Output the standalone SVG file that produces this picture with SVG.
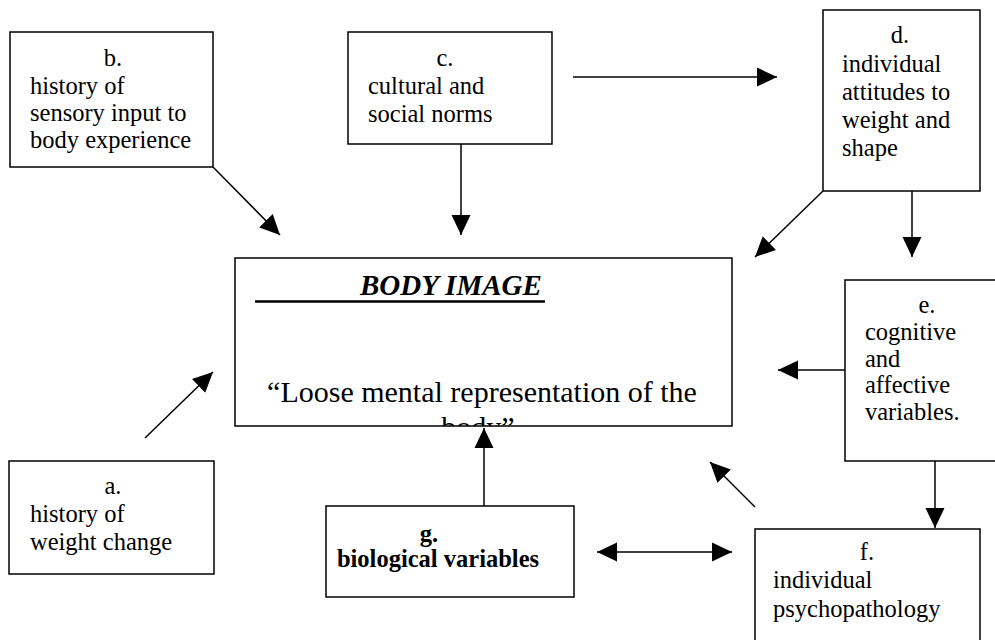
<svg xmlns="http://www.w3.org/2000/svg" width="995" height="640" viewBox="0 0 995 640">
<style>
text{font-family:"Liberation Serif","Times New Roman",serif;fill:#000;font-size:24.5px}
.box{fill:#fff;stroke:#000;stroke-width:1.5}
.c{text-anchor:middle}
.b{font-weight:bold}
.ln{stroke:#000;stroke-width:1.5;fill:none}
</style>
<defs>
<marker id="ah" markerUnits="userSpaceOnUse" markerWidth="21" markerHeight="20" refX="20" refY="9.5" orient="auto-start-reverse" viewBox="0 0 21 19">
<path d="M0,0 L20,9.5 L0,19 z" fill="#000"/>
</marker>
<clipPath id="bodyclip"><rect x="235" y="258" width="497" height="168"/></clipPath>
</defs>
<rect width="995" height="640" fill="#fff"/>
<g id="connectors">
<line class="ln" x1="213" y1="167" x2="280" y2="235" marker-end="url(#ah)"/>
<line class="ln" x1="461" y1="144" x2="461" y2="235" marker-end="url(#ah)"/>
<line class="ln" x1="573" y1="77" x2="777" y2="77" marker-end="url(#ah)"/>
<line class="ln" x1="823" y1="191" x2="755" y2="257" marker-end="url(#ah)"/>
<line class="ln" x1="912" y1="191" x2="912" y2="257" marker-end="url(#ah)"/>
<line class="ln" x1="845" y1="370" x2="778" y2="370" marker-end="url(#ah)"/>
<line class="ln" x1="935" y1="461" x2="935" y2="528" marker-end="url(#ah)"/>
<line class="ln" x1="755" y1="507" x2="710" y2="462" marker-end="url(#ah)"/>
<line class="ln" x1="484" y1="506" x2="484" y2="428" marker-end="url(#ah)"/>
<line class="ln" x1="597" y1="552" x2="732" y2="552" marker-start="url(#ah)" marker-end="url(#ah)"/>
<line class="ln" x1="145" y1="438" x2="213" y2="372" marker-end="url(#ah)"/>
</g>
<g id="body-image">
<rect class="box" x="235" y="258" width="497" height="168"/>
<text x="360" y="295" style="font-size:29px;font-weight:bold;font-style:italic">BODY IMAGE</text>
<line x1="255" y1="301.5" x2="545" y2="301.5" stroke="#000" stroke-width="2.5"/>
<g clip-path="url(#bodyclip)">
<text class="c" x="482" y="402" style="font-size:30px">“Loose mental representation of the</text>
<text class="c" x="478" y="437" style="font-size:30px">body”</text>
</g>
</g>
<g id="node-a">
<rect class="box" x="9" y="461" width="205" height="113"/>
<text class="c" x="113" y="494">a.</text>
<text x="30" y="522">history of</text>
<text x="30" y="550">weight change</text>
</g>
<g id="node-b">
<rect class="box" x="10" y="32" width="203" height="135"/>
<text class="c" x="113" y="66">b.</text>
<text x="30" y="94">history of</text>
<text x="30" y="121">sensory input to</text>
<text x="30" y="148">body experience</text>
</g>
<g id="node-c">
<rect class="box" x="348" y="32" width="204" height="112"/>
<text class="c" x="445" y="66">c.</text>
<text x="368" y="94">cultural and</text>
<text x="368" y="122">social norms</text>
</g>
<g id="node-d">
<rect class="box" x="823" y="10" width="157" height="181"/>
<text class="c" x="900" y="43">d.</text>
<text x="842" y="72">individual</text>
<text x="842" y="100">attitudes to</text>
<text x="842" y="128">weight and</text>
<text x="842" y="156">shape</text>
</g>
<g id="node-e">
<rect class="box" x="845" y="280" width="160" height="181"/>
<text class="c" x="927" y="313">e.</text>
<text x="865" y="340">cognitive</text>
<text x="865" y="367">and</text>
<text x="865" y="393">affective</text>
<text x="865" y="420">variables.</text>
</g>
<g id="node-f">
<rect class="box" x="755" y="529" width="225" height="120"/>
<text class="c" x="867" y="560">f.</text>
<text x="773" y="588">individual</text>
<text x="773" y="617">psychopathology</text>
</g>
<g id="node-g">
<rect class="box" x="326" y="506" width="248" height="91"/>
<text class="c b" x="429" y="542">g.</text>
<text class="c b" x="438" y="567">biological variables</text>
</g>
</svg>
